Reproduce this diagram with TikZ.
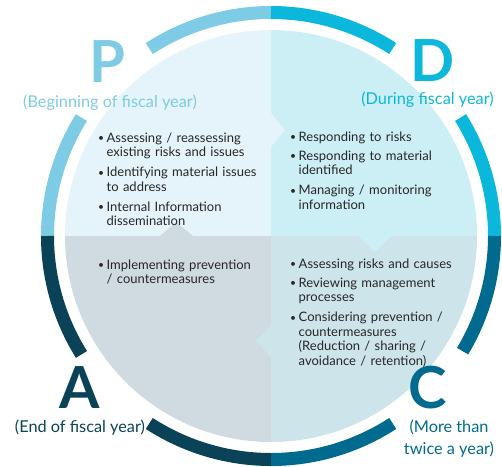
\documentclass[tikz,border=0pt]{standalone}
\usepackage{fontspec}
\setmainfont{Lato}
\definecolor{cP}{RGB}{125,203,228}
\definecolor{cD}{RGB}{11,183,219}
\definecolor{cC}{RGB}{0,106,143}
\definecolor{cA}{RGB}{10,66,88}
\definecolor{fP}{RGB}{228,244,250}
\definecolor{fD}{RGB}{204,238,245}
\definecolor{fA}{RGB}{207,219,224}
\definecolor{fC}{RGB}{205,228,235}
\definecolor{txt}{RGB}{40,38,40}
\newcommand{\bitem}[1]{\par\noindent\makebox[8.5pt][l]{\raisebox{0.5pt}{\scalebox{0.8}{\textbullet}}}\begin{tabular}[t]{@{}l@{}}#1\end{tabular}}
\tikzset{
  ring/.style={line width=13pt},
  letter/.style={font=\fontsize{58}{58}\selectfont\bfseries, anchor=base, inner sep=0pt},
  phase/.style={font=\fontsize{16.3}{22}\selectfont, align=center, inner sep=0pt},
  listtext/.style={font=\fontsize{13}{14.5}\selectfont, text=txt, text width=180pt, align=left, anchor=base west, inner sep=0pt, execute at begin node={\setlength{\parskip}{4.5pt}}},
}
\begin{document}
\begin{tikzpicture}[x=1pt,y=1pt]
\useasboundingbox (-271,-230) rectangle (231,236);
% quadrant fills
\fill[fD] (0,0) -- (0:206) arc (0:90:206) -- cycle;
\fill[fP] (0,0) -- (90:206) arc (90:180:206) -- cycle;
\fill[fA] (0,0) -- (180:206) arc (180:270:206) -- cycle;
\fill[fC] (0,0) -- (270:206) arc (270:360:206) -- cycle;
% flow chevrons
\fill[fP] (0,123) -- (14,106) -- (0,89) -- cycle;
\fill[fD] (87,0) -- (104,-16) -- (121,0) -- cycle;
\fill[fC] (0,-89) -- (-15,-105) -- (0,-121) -- cycle;
\fill[fA] (-111,0) -- (-95,14) -- (-78,0) -- cycle;
% outer ring
\draw[ring, cP] (90:223.5) arc (90:123:223.5);
\draw[ring, cP] (148:223.5) arc (148:180:223.5);
\draw[ring, cD] (0:223.5) arc (0:32:223.5);
\draw[ring, cD] (57:223.5) arc (57:90:223.5);
\draw[ring, cC] (0:223.5) arc (0:-31:223.5);
\draw[ring, cC] (-57:223.5) arc (-57:-90:223.5);
\draw[ring, cA] (180:223.5) arc (180:212:223.5);
\draw[ring, cA] (237:223.5) arc (237:270:223.5);
% letters and phases
\node[letter, text=cP] (P) at (-164,153) {P};
\node[phase, text=cP] (Pt) at (-161,133) {(Beginning of fiscal year)};
\node[letter, text=cD] (D) at (162,154) {D};
\node[phase, text=cD] (Dt) at (156.5,136) {(During fiscal year)};
\node[letter, text=cA] (A) at (-191,-172) {A};
\node[phase, text=cA] (At) at (-191,-192) {(End of fiscal year)};
\node[letter, text=cC] (C) at (157,-172) {C};
\node[phase, text=cC, anchor=north] (Ct) at (178,-184) {(More than\\twice a year)};
% lists
\node[listtext] (Plist) at (-173,113) {%
\bitem{Assessing / reassessing\\existing risks and issues}
\bitem{Identifying material issues\\to address}
\bitem{Internal Information\\dissemination}};
\node[listtext] (Dlist) at (19,114) {%
\bitem{Responding to risks}
\bitem{Responding to material\\identified}
\bitem{Managing / monitoring\\information}};
\node[listtext] (Alist) at (-173,-14) {%
\bitem{Implementing prevention\\/ countermeasures}};
\node[listtext] (Clist) at (19,-13) {%
\bitem{Assessing risks and causes}
\bitem{Reviewing management\\processes}
\bitem{Considering prevention /\\countermeasures\\(Reduction / sharing /\\avoidance / retention)}};
\end{tikzpicture}
\end{document}
